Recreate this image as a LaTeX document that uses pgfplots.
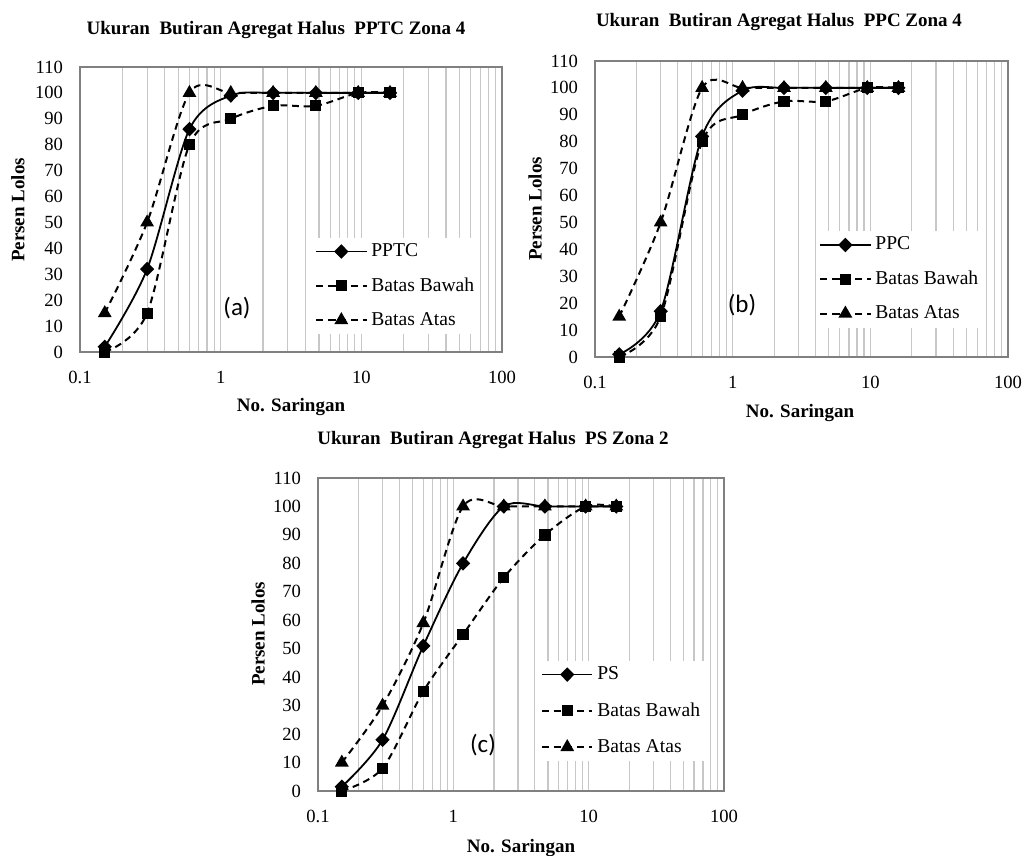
\documentclass[border=0pt]{standalone}
\usepackage{pgfplots}
\pgfplotsset{compat=1.18}
\usepackage{fontspec}
\setmainfont{Liberation Serif}
\newfontfamily\calibri{Carlito}

\pgfplotsset{
  xmin=0.1, xmax=100, ymin=0, ymax=110,
  scale only axis,
  xtick={0.1,1,10,100}, xticklabels={0.1,1,10,100},
  ytick={0,10,...,110},
  xmajorgrids=true, xminorgrids=true,
  major grid style={black!22, line width=0.6pt},
  minor grid style={black!22, line width=0.6pt},
  major tick length=0pt, minor tick length=0pt,
  axis line style={black!50, line width=0.6pt},
  tick label style={font=\fontsize{9.3}{11}\selectfont},
  xticklabel style={yshift=-6pt},
  yticklabel style={xshift=-5pt},
  /pgf/number format/assume math mode=true,
  clip mode=individual,
  legend cell align=left,
  legend style={draw=none, fill=white, anchor=north west, inner sep=1pt,
    font=\fontsize{9.8}{11}\selectfont, row sep=5pt},
  legend image code/.code={\draw[mark repeat=2,mark phase=2]
    plot coordinates {(0pt,0pt)(12.5pt,0pt)(25pt,0pt)};},
}
\tikzset{
  mainser/.style={black, solid, line width=0.9pt, smooth,
    mark=diamond*, mark size=3pt, mark options={solid, fill=black, xscale=1.3}},
  lowser/.style={black, line width=1pt, dash pattern=on 3.4pt off 2.4pt, smooth,
    mark=square*, mark size=2.3pt, mark options={solid, fill=black}},
  upser/.style={black, line width=1pt, dash pattern=on 3.4pt off 2.4pt, smooth,
    mark=triangle*, mark size=3pt, mark options={solid, fill=black}},
}

\begin{document}
\begin{tikzpicture}
\useasboundingbox (0,0) rectangle (512pt,428pt);

% (a) PPTC zona 4
\begin{semilogxaxis}[anchor=south west, at={(40pt,252pt)}, width=211pt, height=142.5pt,
  legend style={at={(0.552,0.403)}}]
\addplot[mainser] coordinates {(0.15,2) (0.3,32) (0.6,86) (1.18,99) (2.36,100) (4.75,100) (9.5,100) (16,100)};
\addplot[lowser] coordinates {(0.15,0) (0.3,15) (0.6,80) (1.18,90) (2.36,95) (4.75,95) (9.5,100) (16,100)};
\addplot[upser] coordinates {(0.15,15) (0.3,50) (0.6,100) (1.18,100) (2.36,100) (4.75,100) (9.5,100) (16,100)};
\legend{PPTC, Batas Bawah, Batas Atas}
\end{semilogxaxis}

% (b) PPC zona 4
\begin{semilogxaxis}[anchor=south west, at={(297.5pt,249.5pt)}, width=206.5pt, height=148pt,
  legend style={at={(0.5375,0.427)}}]
\addplot[mainser] coordinates {(0.15,1) (0.3,17) (0.6,82) (1.18,99) (2.36,100) (4.75,100) (9.5,100) (16,100)};
\addplot[lowser] coordinates {(0.15,0) (0.3,15) (0.6,80) (1.18,90) (2.36,95) (4.75,95) (9.5,100) (16,100)};
\addplot[upser] coordinates {(0.15,15) (0.3,50) (0.6,100) (1.18,100) (2.36,100) (4.75,100) (9.5,100) (16,100)};
\legend{PPC, Batas Bawah, Batas Atas}
\end{semilogxaxis}

% (c) PS zona 2
\begin{semilogxaxis}[anchor=south west, at={(159pt,32.5pt)}, width=203pt, height=156.5pt,
  legend style={at={(0.544,0.418)}, row sep=6pt}]
\addplot[mainser] coordinates {(0.15,1.5) (0.3,18) (0.6,51) (1.18,80) (2.36,100) (4.75,100) (9.5,100) (16,100)};
\addplot[lowser] coordinates {(0.15,0) (0.3,8) (0.6,35) (1.18,55) (2.36,75) (4.75,90) (9.5,100) (16,100)};
\addplot[upser] coordinates {(0.15,10) (0.3,30) (0.6,59) (1.18,100) (2.36,100) (4.75,100) (9.5,100) (16,100)};
\legend{PS, Batas Bawah, Batas Atas}
\end{semilogxaxis}

% titles and axis labels (positions in reference pixels)
\begin{scope}[x=0.5pt, y=0.5pt]
\begin{scope}[every node/.style={font=\bfseries\fontsize{9.5}{11}\selectfont, inner sep=0pt}]
\node at (276,826) {Ukuran\ \ Butiran Agregat Halus\ \ PPTC Zona 4};
\node at (779,834) {Ukuran\ \ Butiran Agregat Halus\ \ PPC Zona 4};
\node at (493,416) {Ukuran\ \ Butiran Agregat Halus\ \ PS Zona 2};
\node at (291,449) {No. Saringan};
\node at (800,443) {No. Saringan};
\node at (521,8) {No. Saringan};
\node[rotate=90] at (18,646) {Persen Lolos};
\node[rotate=90] at (535,647) {Persen Lolos};
\node[rotate=90] at (258,222) {Persen Lolos};
\end{scope}
\begin{scope}[every node/.style={font=\calibri\fontsize{12.5}{14}\selectfont, inner sep=0pt}]
\node at (237,548) {(a)};
\node at (742,551) {(b)};
\node at (483,111) {(c)};
\end{scope}
\end{scope}
\end{tikzpicture}
\end{document}
